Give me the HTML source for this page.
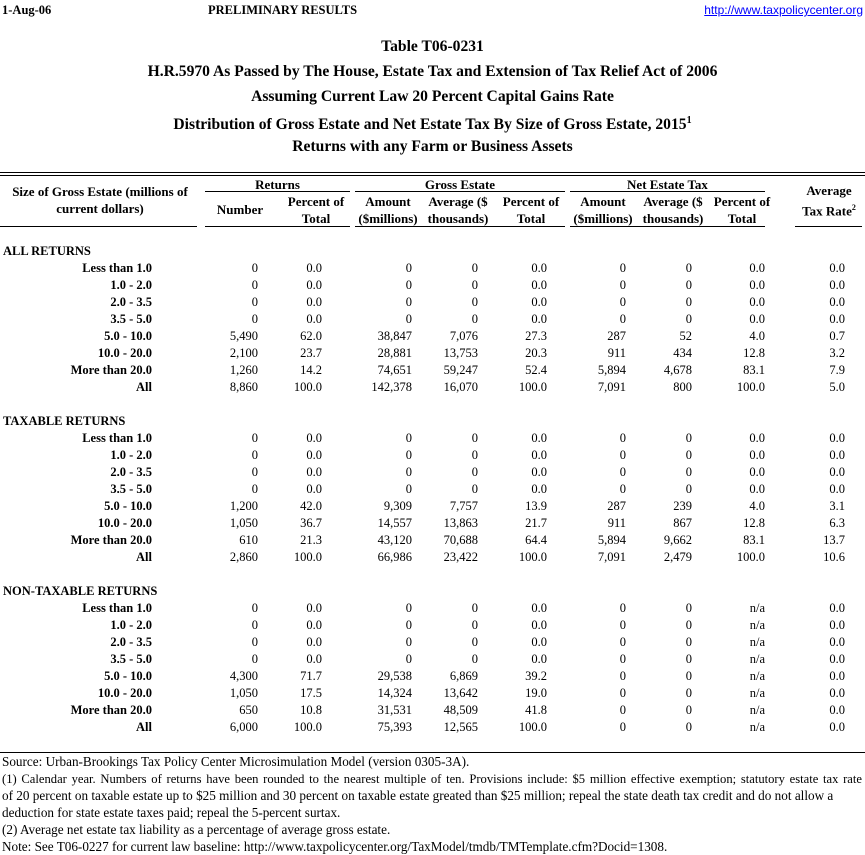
<!DOCTYPE html>
<html><head><meta charset="utf-8"><style>
body{margin:0;width:865px;height:855px;background:#fff;position:relative;overflow:hidden;font-family:"Liberation Serif",serif;font-size:12.5px;color:#000}
.a{position:absolute;white-space:nowrap;line-height:14px}
.b{font-weight:bold}
.f{font-size:13.2px}
.r{position:absolute;left:0;width:865px;height:17px}
.r span{position:absolute;top:0;white-space:nowrap;line-height:14px}
.l{right:713px;font-weight:bold}
.c1{right:607px}.c2{right:543px}.c3{right:453px}.c4{right:387px}.c5{right:318px}
.c6{right:239px}.c7{right:173px}.c8{right:100px}.c9{right:20px}
.ln{position:absolute;height:1px;background:#000}
.t{position:absolute;left:0;width:865px;text-align:center;font-weight:bold;font-size:15.6px;line-height:16px}
.h{position:absolute;text-align:center;font-weight:bold;line-height:17px;font-size:13px;white-space:nowrap}
</style></head><body>
<div class="a b" style="left:2px;top:3px">1-Aug-06</div>
<div class="a b" style="left:208px;top:3px">PRELIMINARY RESULTS</div>
<div class="a" style="right:2px;top:3px;font-family:'Liberation Sans',sans-serif;color:#00f;text-decoration:underline;font-size:12px">http://www.taxpolicycenter.org</div>
<div class="t" style="top:39px">Table T06-0231</div>
<div class="t" style="top:64px">H.R.5970 As Passed by The House, Estate Tax and Extension of Tax Relief Act of 2006</div>
<div class="t" style="top:89px">Assuming Current Law 20 Percent Capital Gains Rate</div>
<div class="t" style="top:113px">Distribution of Gross Estate and Net Estate Tax By Size of Gross Estate, 2015<sup style="font-size:10px">1</sup></div>
<div class="t" style="top:139px">Returns with any Farm or Business Assets</div>

<div class="ln" style="left:0;width:865px;top:172px"></div>
<div class="ln" style="left:0;width:865px;top:175px"></div>

<div class="h" style="left:0;width:200px;top:183px">Size of Gross Estate (millions of<br>current dollars)</div>
<div class="h" style="left:205px;width:145px;top:176px">Returns</div>
<div class="h" style="left:355px;width:210px;top:176px">Gross Estate</div>
<div class="h" style="left:570px;width:195px;top:176px">Net Estate Tax</div>
<div class="ln" style="left:205px;width:145px;top:191px"></div>
<div class="ln" style="left:355px;width:210px;top:191px"></div>
<div class="ln" style="left:570px;width:195px;top:191px"></div>
<div class="h" style="left:205px;width:70px;top:201px">Number</div>
<div class="h" style="left:280px;width:72px;top:193px">Percent of<br>Total</div>
<div class="h" style="left:352px;width:72px;top:193px">Amount<br>($millions)</div>
<div class="h" style="left:422px;width:72px;top:193px">Average ($<br>thousands)</div>
<div class="h" style="left:495px;width:72px;top:193px">Percent of<br>Total</div>
<div class="h" style="left:567px;width:72px;top:193px">Amount<br>($millions)</div>
<div class="h" style="left:637px;width:72px;top:193px">Average ($<br>thousands)</div>
<div class="h" style="left:706px;width:72px;top:193px">Percent of<br>Total</div>
<div class="h" style="left:793px;width:72px;top:182px">Average<br>Tax Rate<sup style="font-size:8px">2</sup></div>
<div class="ln" style="left:0;width:197px;top:226px"></div>
<div class="ln" style="left:205px;width:145px;top:226px"></div>
<div class="ln" style="left:355px;width:210px;top:226px"></div>
<div class="ln" style="left:570px;width:195px;top:226px"></div>
<div class="ln" style="left:795px;width:67px;top:226px"></div>

<div class="a b" style="left:3px;top:244px">ALL RETURNS</div>
<div class="r" style="top:261px"><span class="l">Less than 1.0</span><span class="c1">0</span><span class="c2">0.0</span><span class="c3">0</span><span class="c4">0</span><span class="c5">0.0</span><span class="c6">0</span><span class="c7">0</span><span class="c8">0.0</span><span class="c9">0.0</span></div>
<div class="r" style="top:278px"><span class="l">1.0 - 2.0</span><span class="c1">0</span><span class="c2">0.0</span><span class="c3">0</span><span class="c4">0</span><span class="c5">0.0</span><span class="c6">0</span><span class="c7">0</span><span class="c8">0.0</span><span class="c9">0.0</span></div>
<div class="r" style="top:295px"><span class="l">2.0 - 3.5</span><span class="c1">0</span><span class="c2">0.0</span><span class="c3">0</span><span class="c4">0</span><span class="c5">0.0</span><span class="c6">0</span><span class="c7">0</span><span class="c8">0.0</span><span class="c9">0.0</span></div>
<div class="r" style="top:312px"><span class="l">3.5 - 5.0</span><span class="c1">0</span><span class="c2">0.0</span><span class="c3">0</span><span class="c4">0</span><span class="c5">0.0</span><span class="c6">0</span><span class="c7">0</span><span class="c8">0.0</span><span class="c9">0.0</span></div>
<div class="r" style="top:329px"><span class="l">5.0 - 10.0</span><span class="c1">5,490</span><span class="c2">62.0</span><span class="c3">38,847</span><span class="c4">7,076</span><span class="c5">27.3</span><span class="c6">287</span><span class="c7">52</span><span class="c8">4.0</span><span class="c9">0.7</span></div>
<div class="r" style="top:346px"><span class="l">10.0 - 20.0</span><span class="c1">2,100</span><span class="c2">23.7</span><span class="c3">28,881</span><span class="c4">13,753</span><span class="c5">20.3</span><span class="c6">911</span><span class="c7">434</span><span class="c8">12.8</span><span class="c9">3.2</span></div>
<div class="r" style="top:363px"><span class="l">More than 20.0</span><span class="c1">1,260</span><span class="c2">14.2</span><span class="c3">74,651</span><span class="c4">59,247</span><span class="c5">52.4</span><span class="c6">5,894</span><span class="c7">4,678</span><span class="c8">83.1</span><span class="c9">7.9</span></div>
<div class="r" style="top:380px"><span class="l">All</span><span class="c1">8,860</span><span class="c2">100.0</span><span class="c3">142,378</span><span class="c4">16,070</span><span class="c5">100.0</span><span class="c6">7,091</span><span class="c7">800</span><span class="c8">100.0</span><span class="c9">5.0</span></div>

<div class="a b" style="left:3px;top:414px">TAXABLE RETURNS</div>
<div class="r" style="top:431px"><span class="l">Less than 1.0</span><span class="c1">0</span><span class="c2">0.0</span><span class="c3">0</span><span class="c4">0</span><span class="c5">0.0</span><span class="c6">0</span><span class="c7">0</span><span class="c8">0.0</span><span class="c9">0.0</span></div>
<div class="r" style="top:448px"><span class="l">1.0 - 2.0</span><span class="c1">0</span><span class="c2">0.0</span><span class="c3">0</span><span class="c4">0</span><span class="c5">0.0</span><span class="c6">0</span><span class="c7">0</span><span class="c8">0.0</span><span class="c9">0.0</span></div>
<div class="r" style="top:465px"><span class="l">2.0 - 3.5</span><span class="c1">0</span><span class="c2">0.0</span><span class="c3">0</span><span class="c4">0</span><span class="c5">0.0</span><span class="c6">0</span><span class="c7">0</span><span class="c8">0.0</span><span class="c9">0.0</span></div>
<div class="r" style="top:482px"><span class="l">3.5 - 5.0</span><span class="c1">0</span><span class="c2">0.0</span><span class="c3">0</span><span class="c4">0</span><span class="c5">0.0</span><span class="c6">0</span><span class="c7">0</span><span class="c8">0.0</span><span class="c9">0.0</span></div>
<div class="r" style="top:499px"><span class="l">5.0 - 10.0</span><span class="c1">1,200</span><span class="c2">42.0</span><span class="c3">9,309</span><span class="c4">7,757</span><span class="c5">13.9</span><span class="c6">287</span><span class="c7">239</span><span class="c8">4.0</span><span class="c9">3.1</span></div>
<div class="r" style="top:516px"><span class="l">10.0 - 20.0</span><span class="c1">1,050</span><span class="c2">36.7</span><span class="c3">14,557</span><span class="c4">13,863</span><span class="c5">21.7</span><span class="c6">911</span><span class="c7">867</span><span class="c8">12.8</span><span class="c9">6.3</span></div>
<div class="r" style="top:533px"><span class="l">More than 20.0</span><span class="c1">610</span><span class="c2">21.3</span><span class="c3">43,120</span><span class="c4">70,688</span><span class="c5">64.4</span><span class="c6">5,894</span><span class="c7">9,662</span><span class="c8">83.1</span><span class="c9">13.7</span></div>
<div class="r" style="top:550px"><span class="l">All</span><span class="c1">2,860</span><span class="c2">100.0</span><span class="c3">66,986</span><span class="c4">23,422</span><span class="c5">100.0</span><span class="c6">7,091</span><span class="c7">2,479</span><span class="c8">100.0</span><span class="c9">10.6</span></div>

<div class="a b" style="left:3px;top:584px">NON-TAXABLE RETURNS</div>
<div class="r" style="top:601px"><span class="l">Less than 1.0</span><span class="c1">0</span><span class="c2">0.0</span><span class="c3">0</span><span class="c4">0</span><span class="c5">0.0</span><span class="c6">0</span><span class="c7">0</span><span class="c8">n/a</span><span class="c9">0.0</span></div>
<div class="r" style="top:618px"><span class="l">1.0 - 2.0</span><span class="c1">0</span><span class="c2">0.0</span><span class="c3">0</span><span class="c4">0</span><span class="c5">0.0</span><span class="c6">0</span><span class="c7">0</span><span class="c8">n/a</span><span class="c9">0.0</span></div>
<div class="r" style="top:635px"><span class="l">2.0 - 3.5</span><span class="c1">0</span><span class="c2">0.0</span><span class="c3">0</span><span class="c4">0</span><span class="c5">0.0</span><span class="c6">0</span><span class="c7">0</span><span class="c8">n/a</span><span class="c9">0.0</span></div>
<div class="r" style="top:652px"><span class="l">3.5 - 5.0</span><span class="c1">0</span><span class="c2">0.0</span><span class="c3">0</span><span class="c4">0</span><span class="c5">0.0</span><span class="c6">0</span><span class="c7">0</span><span class="c8">n/a</span><span class="c9">0.0</span></div>
<div class="r" style="top:669px"><span class="l">5.0 - 10.0</span><span class="c1">4,300</span><span class="c2">71.7</span><span class="c3">29,538</span><span class="c4">6,869</span><span class="c5">39.2</span><span class="c6">0</span><span class="c7">0</span><span class="c8">n/a</span><span class="c9">0.0</span></div>
<div class="r" style="top:686px"><span class="l">10.0 - 20.0</span><span class="c1">1,050</span><span class="c2">17.5</span><span class="c3">14,324</span><span class="c4">13,642</span><span class="c5">19.0</span><span class="c6">0</span><span class="c7">0</span><span class="c8">n/a</span><span class="c9">0.0</span></div>
<div class="r" style="top:703px"><span class="l">More than 20.0</span><span class="c1">650</span><span class="c2">10.8</span><span class="c3">31,531</span><span class="c4">48,509</span><span class="c5">41.8</span><span class="c6">0</span><span class="c7">0</span><span class="c8">n/a</span><span class="c9">0.0</span></div>
<div class="r" style="top:720px"><span class="l">All</span><span class="c1">6,000</span><span class="c2">100.0</span><span class="c3">75,393</span><span class="c4">12,565</span><span class="c5">100.0</span><span class="c6">0</span><span class="c7">0</span><span class="c8">n/a</span><span class="c9">0.0</span></div>

<div class="ln" style="left:0;width:865px;top:752px"></div>
<div class="a f" style="left:2px;top:755px">Source: Urban-Brookings Tax Policy Center Microsimulation Model (version 0305-3A).</div>
<div class="a f" style="left:2px;top:772px;width:860px;font-size:12.6px;white-space:normal;text-align:justify;text-align-last:justify">(1) Calendar year. Numbers of returns have been rounded to the nearest multiple of ten. Provisions include: $5 million effective exemption; statutory estate tax rate</div>
<div class="a f" style="left:2px;top:789px">of 20 percent on taxable estate up to $25 million and 30 percent on taxable estate greated than $25 million; repeal the state death tax credit and do not allow a</div>
<div class="a f" style="left:2px;top:806px">deduction for state estate taxes paid; repeal the 5-percent surtax.</div>
<div class="a f" style="left:2px;top:823px">(2) Average net estate tax liability as a percentage of average gross estate.</div>
<div class="a f" style="left:2px;top:840px">Note: See T06-0227 for current law baseline: http://www.taxpolicycenter.org/TaxModel/tmdb/TMTemplate.cfm?Docid=1308.</div>
</body></html>
